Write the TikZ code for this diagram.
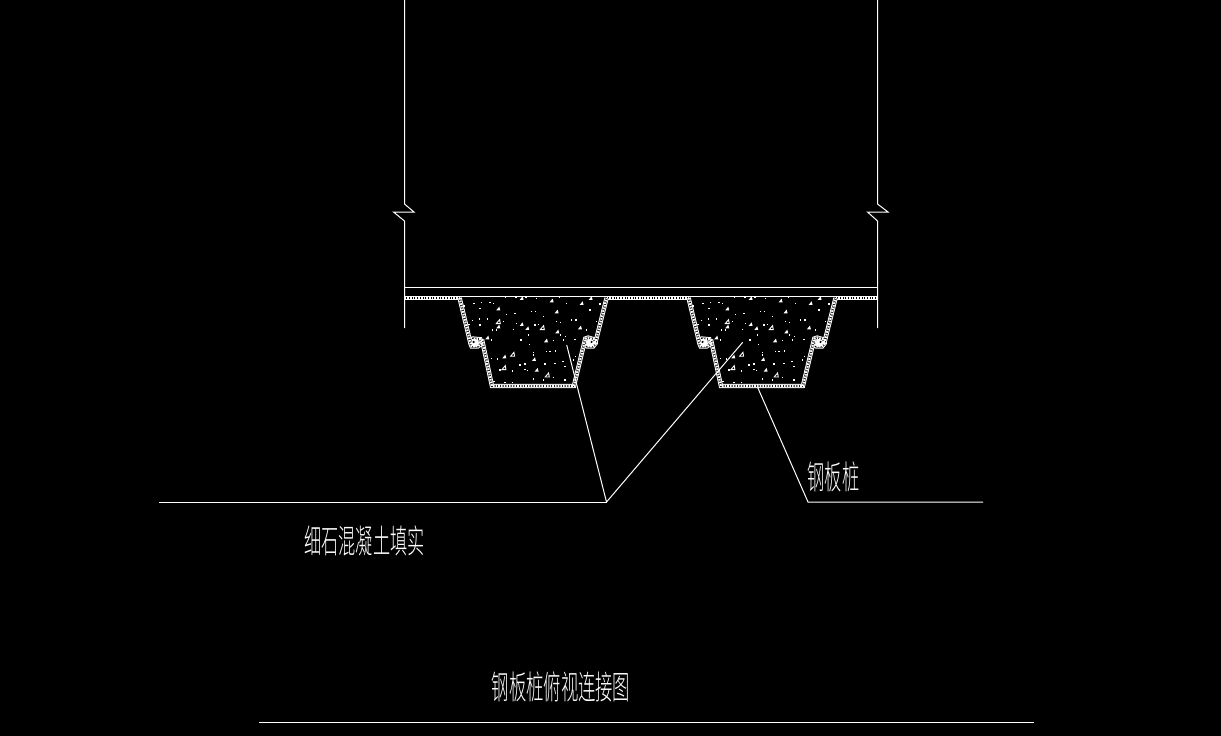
\documentclass[tikz,border=0pt]{standalone}
\usepackage{fontspec}
\newfontfamily\cadfont{Noto Sans CJK SC Light}
\tikzset{
  cadline/.style={draw=white,line width=1pt},
  cadtext/.style={text=white,inner sep=0pt,font=\cadfont\fontsize{33}{33}\selectfont,xscale=0.52},
  hatchfill/.style={white,line width=2.2pt,dash pattern=on 1.7pt off 1pt},
  zoomed/.style={x=0.3333pt,y=-0.3333pt},
}
\newcommand{\bandpaths}{%
  (209,54) -- (242,192) -- (245,199) -- (264,199) -- (275,191) -- (271,178) -- (250,176) -- (246,185)
  (276,178) -- (306,318) -- (552,318) -- (586,176) -- (595,173) -- (612,178) -- (617,190) -- (610,199) -- (592,199) -- (584,190)
  (616,190) -- (650,54)
}
\newcommand{\grainmarks}{%
  \foreach \x/\y in {347/52,378/52,408/52,440/55,508/52,530/70,630/72,252/70,275/67,300/68,310/70,222/78,425/95,437/95,375/100,350/103,268/117,248/122,292/117,237/133,270/135,380/130,435/135,445/133,500/125,512/128,545/120,558/120,620/125,340/125,370/148,320/150,308/150,415/165,490/182,512/165,527/170,305/180,393/180,497/213,480/215,430/218,305/235,323/237,418/193,430/225,519/245,495/250,465/252,405/252,390/255,405/268,367/273,490/292,430/297,460/300,368/307,345/307,312/305,413/272,525/260,525/300,520/180,555/178,557/230,550/240,600/90,270/85,460/110,590/150,330/270,470/215}
    {\fill[white] (\x-2,\y-2) rectangle (\x+2,\y+2);}
  \foreach \x/\y in {395/55,602/55,502/155,468/182,292/173,432/238,570/143,325/140,325/86,500/95,575/70,485/62,412/145,343/230,440/270,395/133}
    {\fill[white] (\x-6,\y+5) -- (\x+6,\y+5) -- (\x+3,\y-6) -- cycle;}
  \foreach \x/\y in {325/125,457/143,368/223,342/263,472/285}
    {\draw[white,line width=0.9pt] (\x-6,\y+6) -- (\x+6,\y+6) -- (\x+4,\y-6) -- cycle;}
}
\newcommand{\pileunit}{%
  \draw[white,line width=4.4pt,line join=miter] \bandpaths;
  \draw[black,line width=2.4pt,line join=miter] \bandpaths;
  \draw[hatchfill] \bandpaths;
  \fill[white] (255,189) circle (12);
  \fill[black] (251,186) circle (3.5);
  \fill[white] (601,189) circle (12);
  \fill[black] (605,186) circle (3.5);
  \grainmarks
}
\begin{document}
\begin{tikzpicture}[x=1pt,y=-1pt]
  \useasboundingbox (0,0) rectangle (1221,736);
  \fill[black] (0,0) rectangle (1221,736);

  % walls with break marks
  \draw[cadline] (404.5,0) -- (404.5,204) -- (414,212) -- (393.5,212) -- (404.5,221) -- (404.5,328);
  \draw[cadline] (877.5,0) -- (877.5,204) -- (888,212) -- (867.5,212) -- (877.5,221) -- (877.5,328);
  \draw[cadline] (404.5,287.5) -- (877.5,287.5);

  % cap plate: hatched flanges
  \begin{scope}[zoomed,shift={(1170,840)}]
    \foreach \a/\b in {44/209,650/896,1337/1463}{
      \fill[white] (\a,50) rectangle (\b,59);
      \fill[black] (\a,52.5) rectangle (\b,56.5);
      \draw[hatchfill] (\a,54.5) -- (\b,54.5);
    }
  \end{scope}

  % sheet piles with concrete fill
  \begin{scope}[zoomed,shift={(1170,840)}]
    \pileunit
  \end{scope}
  \begin{scope}[zoomed,shift={(1857,840)}]
    \pileunit
  \end{scope}
  \draw[cadline] (404.5,296.5) -- (877.5,296.5);

  % leaders
  \coordinate (leadA) at (566.7,345);
  \coordinate (leadB) at (742.7,342.3);
  \coordinate (leadC) at (757.7,387.5);
  \coordinate (kneeL) at (606.5,502);
  \coordinate (kneeR) at (808,502);
  \coordinate (shelfL) at (159,502);
  \coordinate (shelfR) at (983,502);
  \coordinate (ruleL) at (259,722);
  \coordinate (ruleR) at (1034,722);
  \draw[cadline] (leadA) -- (kneeL) -- (leadB);
  \draw[cadline] (shelfL) -- (kneeL);
  \draw[cadline] (leadC) -- (kneeR) -- (shelfR);
  \draw[cadline] (ruleL) -- (ruleR);

  % labels
  \node[cadtext] (pilelabel) at (833.5,477) {钢板桩};
  \node[cadtext] (filllabel) at (364.5,540.5) {细石混凝土填实};
  \node[cadtext,xscale=1.01] (titlelabel) at (561,687) {钢板桩俯视连接图};
\end{tikzpicture}
\end{document}
